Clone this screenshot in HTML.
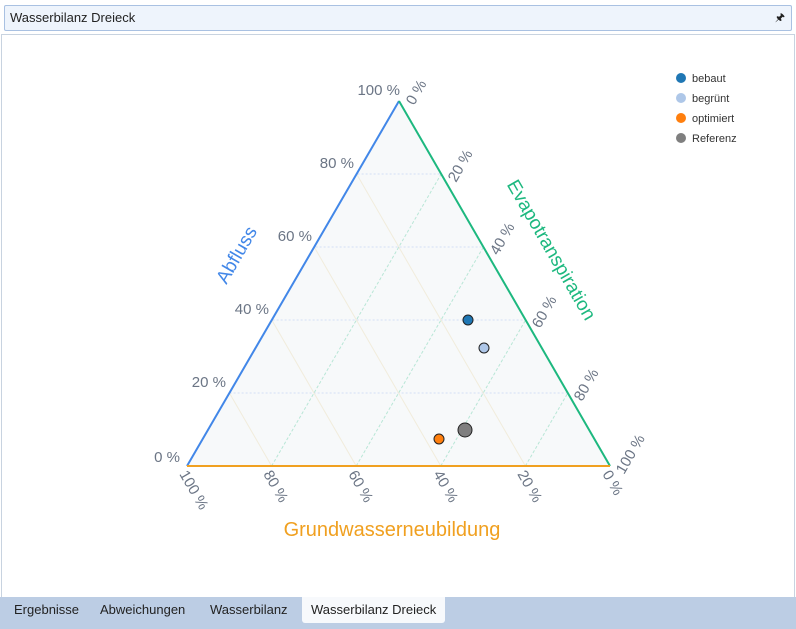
<!DOCTYPE html>
<html><head><style>
body{margin:0;width:796px;height:629px;background:#fff;font-family:"Liberation Sans",sans-serif;position:relative;overflow:hidden}
.hdr{position:absolute;left:4px;top:5px;width:786px;height:24px;background:#eef4fc;border:1px solid #a9c1e2;border-radius:2px;font-size:13px;line-height:24px;color:#222}
.hdr span{margin-left:5px}
.pin{position:absolute;right:6px;top:0;font-size:11px}
.frame{position:absolute;left:1px;top:34px;width:792px;height:562px;border:1px solid #c8d3e0;border-bottom:none}
.tabs{position:absolute;left:0;top:597px;width:796px;height:32px;background:#bccde4;font-size:13px;color:#222}
.tab{position:absolute;top:0;height:26px;line-height:26px}
.act{background:#f7f9fc;border-radius:0 0 3px 3px;padding:0 9px}
</style></head><body>
<div class="hdr"><span>Wasserbilanz Dreieck</span><span class="pin">&#x1F588;</span></div>
<div class="frame"></div>
<svg width="796" height="629" style="position:absolute;left:0;top:0" font-family="Liberation Sans, sans-serif">
<polygon points="399,101 187,466 610,466" fill="#f7f9fa"/>
<g stroke="#d3def5" stroke-width="1" stroke-dasharray="2,2">
<line x1="357.6" y1="174" x2="441.2" y2="174"/>
<line x1="315.6" y1="247" x2="483.4" y2="247"/>
<line x1="272.6" y1="320" x2="525.6" y2="320"/>
<line x1="229.6" y1="393" x2="567.8" y2="393"/>
</g>
<g stroke="#f1ecdc" stroke-width="1">
<line x1="271.6" y1="466" x2="229.4" y2="393"/>
<line x1="356.2" y1="466" x2="271.8" y2="320"/>
<line x1="440.8" y1="466" x2="314.2" y2="247"/>
<line x1="525.4" y1="466" x2="356.6" y2="174"/>
</g>
<g stroke="#b8e6d6" stroke-width="1" stroke-dasharray="3,2">
<line x1="271.6" y1="466" x2="441.2" y2="174"/>
<line x1="356.2" y1="466" x2="483.4" y2="247"/>
<line x1="440.8" y1="466" x2="525.6" y2="320"/>
<line x1="525.4" y1="466" x2="567.8" y2="393"/>
</g>
<line x1="399" y1="101" x2="187" y2="466" stroke="#4287e8" stroke-width="2"/>
<line x1="399" y1="101" x2="610" y2="466" stroke="#1db87f" stroke-width="2"/>
<line x1="187" y1="466" x2="610" y2="466" stroke="#f0a020" stroke-width="2"/>
<g fill="#6b7585" font-size="15">
<text x="400" y="95" text-anchor="end">100 %</text>
<text x="354" y="168" text-anchor="end">80 %</text>
<text x="312" y="241" text-anchor="end">60 %</text>
<text x="269" y="314" text-anchor="end">40 %</text>
<text x="226" y="387" text-anchor="end">20 %</text>
<text x="180" y="462" text-anchor="end">0 %</text>
<text transform="translate(414,106) rotate(-60)">0 %</text>
<text transform="translate(456,183) rotate(-60)">20 %</text>
<text transform="translate(498,256) rotate(-60)">40 %</text>
<text transform="translate(540,329) rotate(-60)">60 %</text>
<text transform="translate(582,402) rotate(-60)">80 %</text>
<text transform="translate(624,475) rotate(-60)">100 %</text>
<text transform="translate(179,474) rotate(60)">100 %</text>
<text transform="translate(263,474) rotate(60)">80 %</text>
<text transform="translate(348,474) rotate(60)">60 %</text>
<text transform="translate(433,474) rotate(60)">40 %</text>
<text transform="translate(517,474) rotate(60)">20 %</text>
<text transform="translate(602,474) rotate(60)">0 %</text>
</g>
<text transform="translate(242,258) rotate(-60)" text-anchor="middle" font-size="19" fill="#4287e8">Abfluss</text>
<text transform="translate(546,253) rotate(60)" text-anchor="middle" font-size="19" fill="#1db87f">Evapotranspiration</text>
<text x="392" y="536" text-anchor="middle" font-size="20" fill="#f0a020">Grundwasserneubildung</text>
<g stroke="#222" stroke-width="1">
<circle cx="468" cy="320" r="5" fill="#1f77b4"/>
<circle cx="484" cy="348" r="5" fill="#aec7e8"/>
<circle cx="439" cy="439" r="5" fill="#ff7f0e"/>
<circle cx="465" cy="430" r="7" fill="#7f7f7f"/>
</g>
<g font-size="11" fill="#333">
<circle cx="681" cy="78" r="5" fill="#1f77b4"/><text x="692" y="82">bebaut</text>
<circle cx="681" cy="98" r="5" fill="#aec7e8"/><text x="692" y="102">begrünt</text>
<circle cx="681" cy="118" r="5" fill="#ff7f0e"/><text x="692" y="122">optimiert</text>
<circle cx="681" cy="138" r="5" fill="#7f7f7f"/><text x="692" y="142">Referenz</text>
</g>
</svg>
<div class="tabs">
<div class="tab" style="left:14px">Ergebnisse</div>
<div class="tab" style="left:100px">Abweichungen</div>
<div class="tab" style="left:210px">Wasserbilanz</div>
<div class="tab act" style="left:302px">Wasserbilanz Dreieck</div>
</div>
</body></html>
